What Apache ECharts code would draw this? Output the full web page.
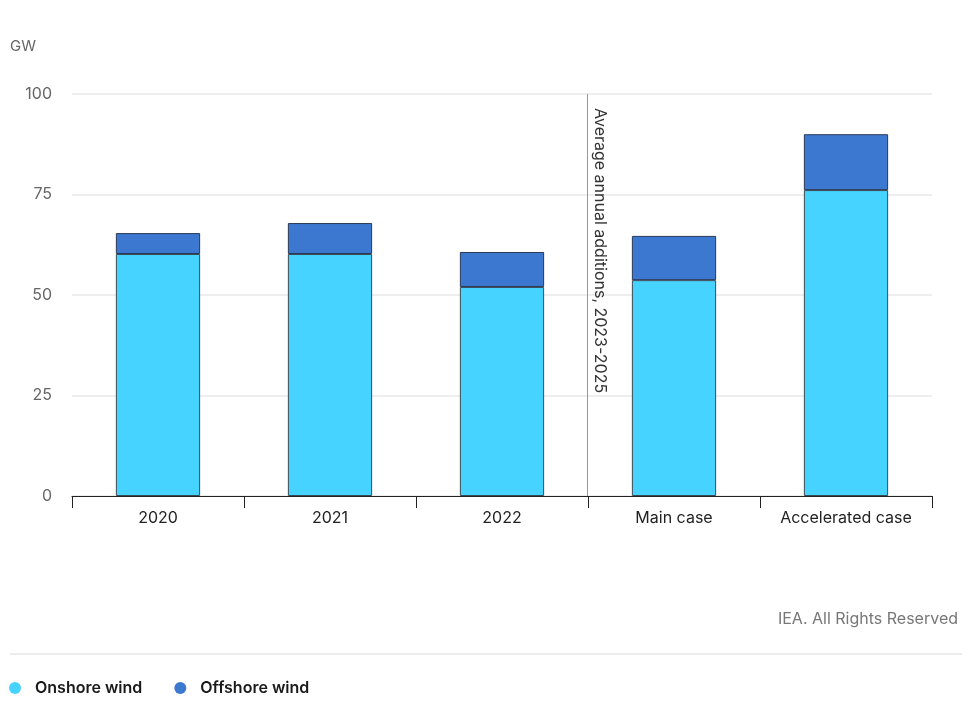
<!DOCTYPE html>
<html><head><meta charset="utf-8">
<script src="https://cdn.jsdelivr.net/npm/echarts@6/dist/echarts.min.js"></script>
<style>html,body{margin:0;padding:0;background:#fff}#c{width:976px;height:713px}</style>
</head><body><div id="c"></div>
<script>
const categories = ['2020', '2021', '2022', 'Main case', 'Accelerated case'];
const onshore = [60.2, 60.2, 52.0, 53.7, 76.1];
const offshore = [5.2, 7.7, 8.7, 11.0, 13.9];
const yTicks = [0, 25, 50, 75, 100];
const seriesNames = ['Onshore wind', 'Offshore wind'];
const dividerIndex = 3;
const dividerText = 'Average annual additions, 2023-2025';

const FONT = 'Inter, Roboto, sans-serif';
const chart = echarts.init(document.getElementById('c'));
chart.setOption({
  backgroundColor: '#fff',
  animation: false,
  textStyle: { fontFamily: FONT },
  grid: { left: 72, right: 44, top: 94, bottom: 217 },
  legend: {
    left: 4, top: 675, itemWidth: 12, itemHeight: 12, itemGap: 32, icon: 'circle',
    itemStyle: { borderWidth: 0 },
    textStyle: { fontSize: 16, color: '#1a1a1a', fontWeight: 600, fontFamily: FONT, padding: [0, 0, 0, 9] },
    data: seriesNames
  },
  xAxis: {
    type: 'category', data: categories,
    axisLine: { lineStyle: { color: '#222', width: 1.2 } },
    axisTick: { show: true, length: 12, lineStyle: { color: '#222' } },
    axisLabel: { color: '#222', fontSize: 16, margin: 14 },
    splitLine: { show: false }
  },
  yAxis: {
    type: 'value', min: yTicks[0], max: yTicks[yTicks.length - 1], interval: 25,
    name: 'GW', nameLocation: 'end', nameGap: 0,
    nameTextStyle: { color: '#666', fontSize: 15, align: 'left', verticalAlign: 'bottom', padding: [0, 0, 40, -62] },
    axisLine: { show: false }, axisTick: { show: false },
    axisLabel: { color: '#666', fontSize: 16, margin: 20 },
    splitLine: { lineStyle: { color: '#e8e8e8', width: 1.5 } }
  },
  series: [
    { name: seriesNames[0], type: 'bar', stack: 'w', data: onshore, barWidth: '49%',
      itemStyle: { color: '#47D3FF', borderColor: '#3a4a55', borderWidth: 1 } },
    { name: seriesNames[1], type: 'bar', stack: 'w', data: offshore, barWidth: '49%',
      itemStyle: { color: '#3C78D0', borderColor: '#2a3a55', borderWidth: 1 } }
  ]
});
const top100 = chart.convertToPixel({ yAxisIndex: 0 }, yTicks[yTicks.length - 1]);
const bottom0 = chart.convertToPixel({ yAxisIndex: 0 }, yTicks[0]);
const left = chart.convertToPixel({ xAxisIndex: 0 }, categories[dividerIndex - 1]);
const right = chart.convertToPixel({ xAxisIndex: 0 }, categories[dividerIndex]);
const divX = Math.round((left + right) / 2) - 0.5;
chart.setOption({
  graphic: [
    { type: 'line', shape: { x1: divX, y1: top100, x2: divX, y2: bottom0 }, style: { stroke: '#999', lineWidth: 1 }, z: 1 },
    { type: 'text', x: divX + 20, y: top100 + 14, rotation: -Math.PI / 2,
      style: { text: dividerText, fill: '#333', font: '16px ' + FONT } },
    { type: 'line', shape: { x1: 10, y1: 654, x2: 962, y2: 654 }, style: { stroke: '#e6e6e6', lineWidth: 1.5 } },
    { type: 'text', right: 18, top: 611, style: { text: 'IEA. All Rights Reserved', fill: '#777', font: '16px ' + FONT } }
  ]
});
</script></body></html>
